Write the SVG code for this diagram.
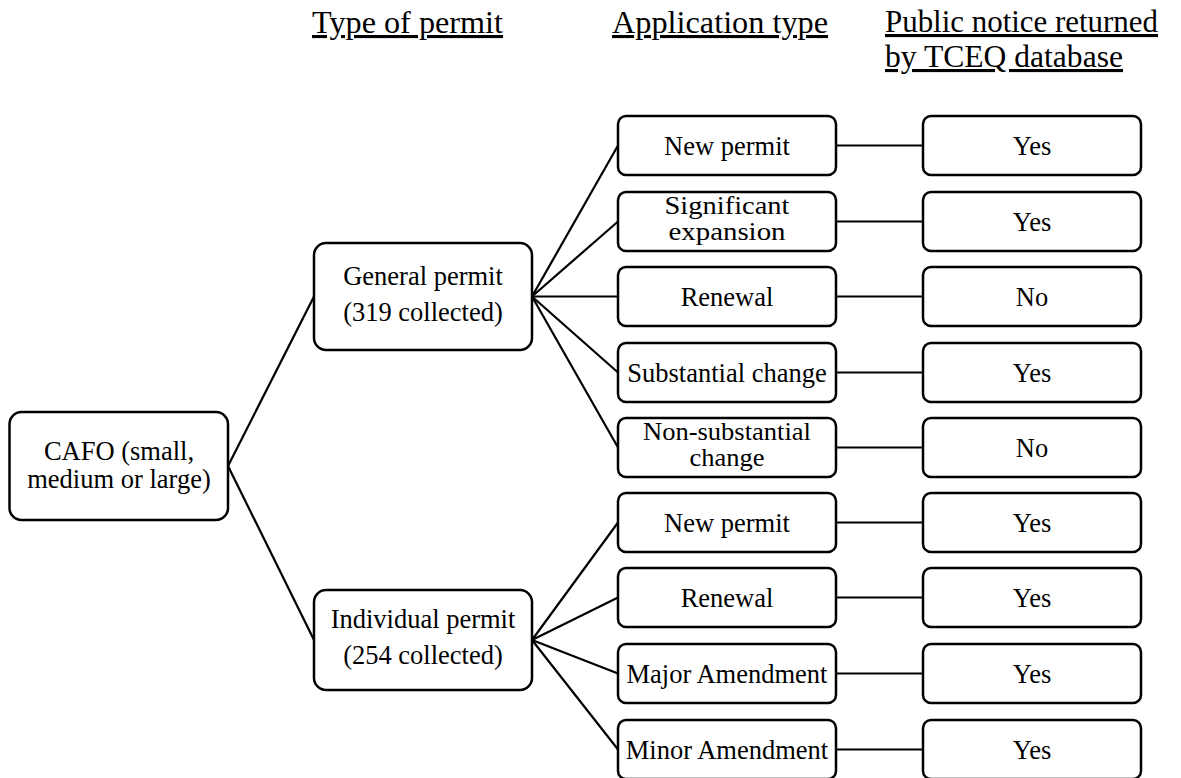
<svg xmlns="http://www.w3.org/2000/svg" width="1181" height="778" viewBox="0 0 1181 778">
<style>
text{font-family:"Liberation Serif","Times New Roman",Times,"DejaVu Serif",serif;fill:#000}
.t{font-size:26.5px;text-anchor:middle}
.t2{font-size:25px;text-anchor:middle}
.h{font-size:31px;text-decoration:underline}
.b{fill:#fff;stroke:#000;stroke-width:2.5}
.c{stroke:#000;stroke-width:2.2;fill:none}
</style>
<rect width="1181" height="778" fill="#fff"/>
<g id="headers">
<text class="h" x="312" y="33" textLength="191" lengthAdjust="spacingAndGlyphs">Type of permit</text>
<text class="h" x="612" y="33" textLength="216" lengthAdjust="spacingAndGlyphs">Application type</text>
<text class="h" x="885" y="32" textLength="273" lengthAdjust="spacingAndGlyphs">Public notice returned</text>
<text class="h" x="885" y="67" textLength="238" lengthAdjust="spacingAndGlyphs">by TCEQ database</text>
</g>
<g id="connectors">
<line class="c" x1="228" y1="466" x2="314" y2="296.5"/>
<line class="c" x1="228" y1="466" x2="314" y2="640"/>
<line class="c" x1="532" y1="296.5" x2="618" y2="145.5"/>
<line class="c" x1="532" y1="296.5" x2="618" y2="221.5"/>
<line class="c" x1="532" y1="296.5" x2="618" y2="296.5"/>
<line class="c" x1="532" y1="296.5" x2="618" y2="372.5"/>
<line class="c" x1="532" y1="296.5" x2="618" y2="447.5"/>
<line class="c" x1="532" y1="640" x2="618" y2="522.5"/>
<line class="c" x1="532" y1="640" x2="618" y2="597.5"/>
<line class="c" x1="532" y1="640" x2="618" y2="673.5"/>
<line class="c" x1="532" y1="640" x2="618" y2="749.5"/>
<line class="c" x1="836" y1="145.5" x2="923" y2="145.5"/>
<line class="c" x1="836" y1="221.5" x2="923" y2="221.5"/>
<line class="c" x1="836" y1="296.5" x2="923" y2="296.5"/>
<line class="c" x1="836" y1="372.5" x2="923" y2="372.5"/>
<line class="c" x1="836" y1="447.5" x2="923" y2="447.5"/>
<line class="c" x1="836" y1="522.5" x2="923" y2="522.5"/>
<line class="c" x1="836" y1="597.5" x2="923" y2="597.5"/>
<line class="c" x1="836" y1="673.5" x2="923" y2="673.5"/>
<line class="c" x1="836" y1="749.5" x2="923" y2="749.5"/>
</g>
<g id="cafo">
<rect class="b" x="9.5" y="412" width="218.5" height="108" rx="12"/>
<text class="t" x="119" y="460">CAFO (small,</text>
<text class="t" x="119" y="487.5">medium or large)</text>
</g>
<g id="general">
<rect class="b" x="314" y="243" width="218" height="107" rx="12"/>
<text class="t" x="423" y="285">General permit</text>
<text class="t" x="423" y="321">(319 collected)</text>
</g>
<g id="individual">
<rect class="b" x="314" y="590" width="218" height="100" rx="12"/>
<text class="t" x="423" y="628">Individual permit</text>
<text class="t" x="423" y="664">(254 collected)</text>
</g>
<g id="g-new">
<rect class="b" x="618" y="116" width="218" height="59" rx="8"/>
<text class="t" x="727" y="154.5">New permit</text>
</g>
<g id="g-sig">
<rect class="b" x="618" y="192" width="218" height="59" rx="8"/>
<text class="t2" x="727" y="214" textLength="125" lengthAdjust="spacingAndGlyphs">Significant</text>
<text class="t2" x="727" y="240" textLength="117" lengthAdjust="spacingAndGlyphs">expansion</text>
</g>
<g id="g-ren">
<rect class="b" x="618" y="267" width="218" height="59" rx="8"/>
<text class="t" x="727" y="305.5">Renewal</text>
</g>
<g id="g-sub">
<rect class="b" x="618" y="343" width="218" height="59" rx="8"/>
<text class="t" x="727" y="381.5">Substantial change</text>
</g>
<g id="g-nonsub">
<rect class="b" x="618" y="418" width="218" height="59" rx="8"/>
<text class="t2" x="727" y="440" textLength="168" lengthAdjust="spacingAndGlyphs">Non-substantial</text>
<text class="t2" x="727" y="466" textLength="75" lengthAdjust="spacingAndGlyphs">change</text>
</g>
<g id="i-new">
<rect class="b" x="618" y="493" width="218" height="59" rx="8"/>
<text class="t" x="727" y="531.5">New permit</text>
</g>
<g id="i-ren">
<rect class="b" x="618" y="568" width="218" height="59" rx="8"/>
<text class="t" x="727" y="606.5">Renewal</text>
</g>
<g id="i-major">
<rect class="b" x="618" y="644" width="218" height="59" rx="8"/>
<text class="t" x="727" y="682.5">Major Amendment</text>
</g>
<g id="i-minor">
<rect class="b" x="618" y="720" width="218" height="59" rx="8"/>
<text class="t" x="727" y="758.5">Minor Amendment</text>
</g>
<g id="r1"><rect class="b" x="923" y="116" width="218" height="59" rx="8"/><text class="t" x="1032" y="154.5">Yes</text></g>
<g id="r2"><rect class="b" x="923" y="192" width="218" height="59" rx="8"/><text class="t" x="1032" y="230.5">Yes</text></g>
<g id="r3"><rect class="b" x="923" y="267" width="218" height="59" rx="8"/><text class="t" x="1032" y="305.5">No</text></g>
<g id="r4"><rect class="b" x="923" y="343" width="218" height="59" rx="8"/><text class="t" x="1032" y="381.5">Yes</text></g>
<g id="r5"><rect class="b" x="923" y="418" width="218" height="59" rx="8"/><text class="t" x="1032" y="456.5">No</text></g>
<g id="r6"><rect class="b" x="923" y="493" width="218" height="59" rx="8"/><text class="t" x="1032" y="531.5">Yes</text></g>
<g id="r7"><rect class="b" x="923" y="568" width="218" height="59" rx="8"/><text class="t" x="1032" y="606.5">Yes</text></g>
<g id="r8"><rect class="b" x="923" y="644" width="218" height="59" rx="8"/><text class="t" x="1032" y="682.5">Yes</text></g>
<g id="r9"><rect class="b" x="923" y="720" width="218" height="59" rx="8"/><text class="t" x="1032" y="758.5">Yes</text></g>
</svg>
